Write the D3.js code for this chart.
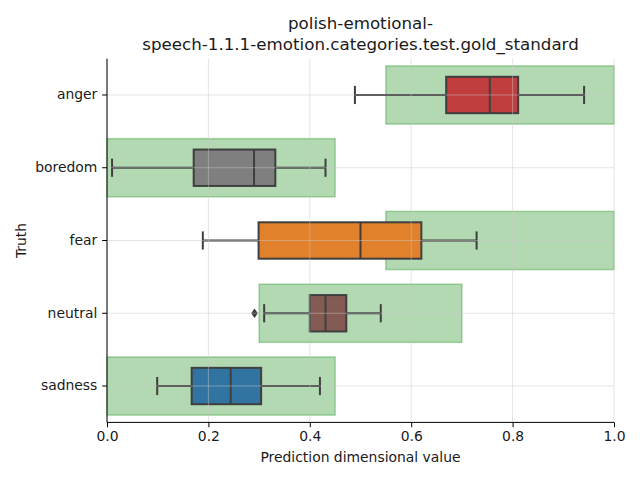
<!DOCTYPE html>
<html><head><meta charset="utf-8">
<script src="https://cdn.jsdelivr.net/npm/d3@7"></script>
<style>body{margin:0;background:#fff}svg{display:block}text{font-family:"DejaVu Sans",sans-serif;fill:#1a1a1a}</style>
</head><body><svg id="c" width="640" height="480"></svg>
<script>
const categories = ["anger","boredom","fear","neutral","sadness"];
const colors = ["#c03d3e","#7f7f7f","#e1812c","#845b53","#3274a1"];
const whiskLow = [0.489,0.010,0.189,0.310,0.099];
const q1 = [0.669,0.171,0.299,0.400,0.167];
const median = [0.755,0.290,0.500,0.431,0.244];
const q3 = [0.811,0.332,0.620,0.472,0.304];
const whiskHigh = [0.941,0.431,0.729,0.540,0.420];
const outliers = [[],[],[],[0.291],[]];
const goldLow = [0.55,0.0,0.55,0.30,0.0];
const goldHigh = [1.0,0.45,1.0,0.70,0.45];
const xTicks = [0,0.2,0.4,0.6,0.8,1.0];
const title = ["polish-emotional-","speech-1.1.1-emotion.categories.test.gold_standard"];

const svg = d3.select("#c");
const L=107,R=614,T=58.6,B=422.4;
const x = d3.scaleLinear().domain([0,1]).range([L,R]);
const y = d3.scaleBand().domain(categories).range([T,B]).padding(0);
const bw = y.bandwidth();
const cy = c => y(c)+bw/2;

// gold standard rectangles
svg.append("g").selectAll("rect").data(categories).join("rect")
  .attr("x",(c,i)=>x(goldLow[i])).attr("width",(c,i)=>x(goldHigh[i])-x(goldLow[i]))
  .attr("y",c=>cy(c)-bw*0.4).attr("height",bw*0.8)
  .attr("fill","green").attr("fill-opacity",0.3)
  .attr("stroke","green").attr("stroke-opacity",0.3).attr("stroke-width",1.5);

// boxes
const g = svg.append("g");
categories.forEach((c,i)=>{
  const yc = cy(c), h = bw*0.5;
  const st = "#3f3f3f", sw = 2;
  g.append("line").attr("x1",x(whiskLow[i])).attr("x2",x(q1[i])).attr("y1",yc).attr("y2",yc).attr("stroke",st).attr("stroke-width",sw);
  g.append("line").attr("x1",x(q3[i])).attr("x2",x(whiskHigh[i])).attr("y1",yc).attr("y2",yc).attr("stroke",st).attr("stroke-width",sw);
  [whiskLow[i],whiskHigh[i]].forEach(v=>g.append("line").attr("x1",x(v)).attr("x2",x(v)).attr("y1",yc-h/4).attr("y2",yc+h/4).attr("stroke",st).attr("stroke-width",sw));
  g.append("rect").attr("x",x(q1[i])).attr("width",x(q3[i])-x(q1[i])).attr("y",yc-h/2).attr("height",h)
    .attr("fill",colors[i]).attr("stroke",st).attr("stroke-width",sw);
  g.append("line").attr("x1",x(median[i])).attr("x2",x(median[i])).attr("y1",yc-h/2).attr("y2",yc+h/2).attr("stroke",st).attr("stroke-width",sw);
  outliers[i].forEach(v=>g.append("path").attr("d","M0,-4.8L3.3,0L0,4.8L-3.3,0Z").attr("transform",`translate(${x(v)},${yc})`).attr("fill",st));
});

// grid
const grid = svg.append("g").attr("stroke","#c8c8c8").attr("stroke-opacity",0.6).attr("stroke-width",0.8);
xTicks.forEach(t=>grid.append("line").attr("x1",x(t)).attr("x2",x(t)).attr("y1",T).attr("y2",B));
categories.forEach(c=>grid.append("line").attr("x1",L).attr("x2",R).attr("y1",cy(c)).attr("y2",cy(c)));

// axes
const xa = svg.append("g").attr("transform",`translate(0,${B})`)
  .call(d3.axisBottom(x).tickValues(xTicks).tickFormat(d3.format(".1f")).tickSizeOuter(0).tickSize(4.86).tickPadding(3.5));
const ya = svg.append("g").attr("transform",`translate(${L},0)`)
  .call(d3.axisLeft(y).tickSizeOuter(0).tickSize(4.86).tickPadding(4.86));
[xa,ya].forEach(a=>{a.selectAll("path").attr("stroke","#000").attr("stroke-width",1);
  a.selectAll("line").attr("stroke","#000");
  a.selectAll("text").attr("font-size",13.9).attr("font-family","DejaVu Sans").attr("fill","#1a1a1a");});
ya.select("path.domain").attr("d",`M0,${T}V${B}`);
xa.select("path.domain").attr("d",`M${L},0H${R}`);

svg.append("text").attr("x",(L+R)/2).attr("y",462).attr("text-anchor","middle").attr("font-size",13.9).text("Prediction dimensional value");
svg.append("text").attr("transform",`translate(26,${(T+B)/2}) rotate(-90)`).attr("text-anchor","middle").attr("font-size",13.9).text("Truth");
title.forEach((t,k)=>svg.append("text").attr("x",(L+R)/2).attr("y",29+k*21).attr("text-anchor","middle").attr("font-size",16.7).text(t));
</script></body></html>
